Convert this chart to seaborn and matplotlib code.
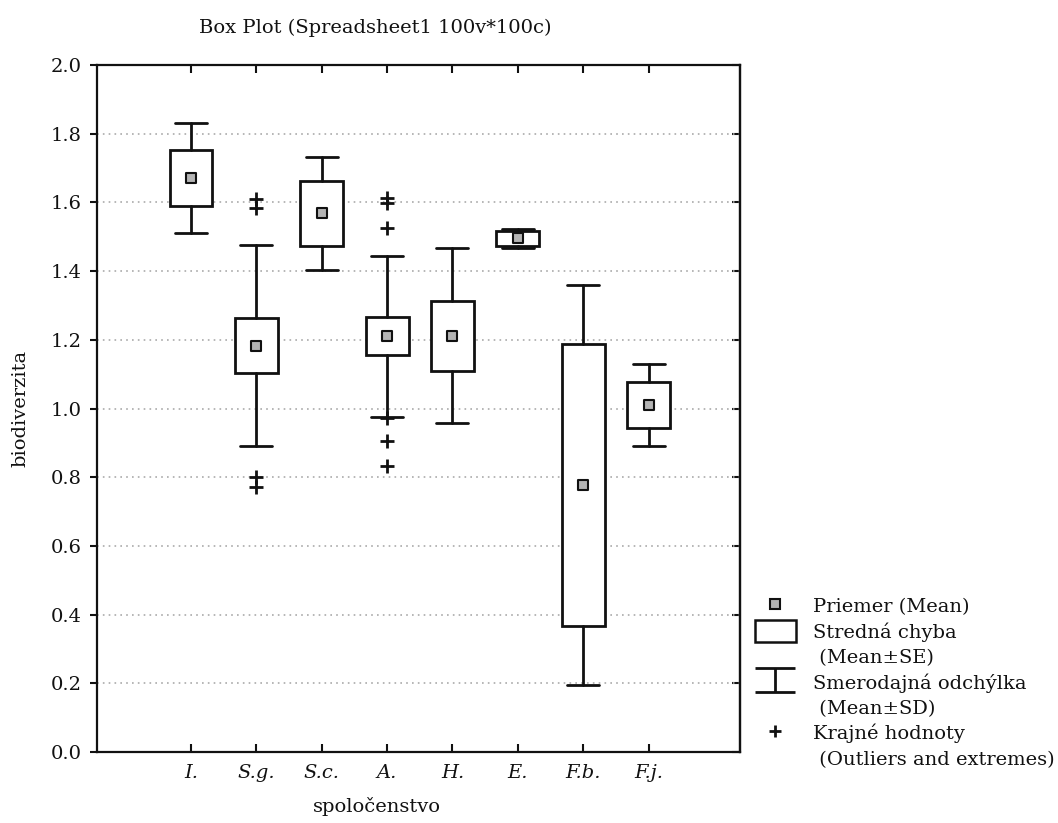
import numpy as np
import pandas as pd
import matplotlib
matplotlib.use('Agg')
import matplotlib.pyplot as plt
import seaborn as sns
from matplotlib.lines import Line2D
from matplotlib.patches import Patch
from matplotlib.path import Path

# Datos (media, error estándar, desviación estándar)
groups = ['I.', 'S.g.', 'S.c.', 'A.', 'H.', 'E.', 'F.b.', 'F.j.']
means = [1.671, 1.183, 1.568, 1.210, 1.212, 1.495, 0.777, 1.010]
se = [0.081, 0.081, 0.095, 0.055, 0.102, 0.023, 0.411, 0.068]
sd = [0.160, 0.292, 0.164, 0.234, 0.255, 0.029, 0.583, 0.119]

# Valores extremos
out_group = ['S.g.', 'S.g.', 'S.g.', 'S.g.', 'A.', 'A.', 'A.', 'A.', 'A.', 'A.']
out_value = [1.609, 1.583, 0.801, 0.772, 1.612, 1.598, 1.525, 0.971, 0.906, 0.833]

yticks = [0.0, 0.2, 0.4, 0.6, 0.8, 1.0, 1.2, 1.4, 1.6, 1.8, 2.0]

sns.set_theme(style='white')
plt.rcParams['font.family'] = ['DejaVu Serif']
ink = '#111111'

df = pd.DataFrame({'grupo': groups, 'media': means})
df_out = pd.DataFrame({'grupo': out_group, 'valor': out_value})

fig = plt.figure(figsize=(10.58, 8.23), dpi=100)
ax = fig.add_axes([97 / 1058, 1 - 752 / 823, (740 - 97) / 1058, (752 - 65) / 823])

# medias (registra también el eje categórico)
sns.scatterplot(data=df, x='grupo', y='media', marker='s', s=60, color='#b4b4b4',
                edgecolor=ink, linewidth=1.5, zorder=5, ax=ax)
sns.scatterplot(data=df_out, x='grupo', y='valor', marker='+', s=90, color=ink,
                linewidth=2, zorder=5, ax=ax)

# cajas: media ± SE, bigotes: media ± SD
stats = []
for g, m, s, d in zip(groups, means, se, sd):
    stats.append(dict(label=g, med=m, q1=m - s, q3=m + s, whislo=m - d, whishi=m + d, fliers=[]))
ax.bxp(stats, positions=range(len(groups)), widths=0.655, capwidths=0.49,
       patch_artist=True, showfliers=False, manage_ticks=False,
       boxprops=dict(facecolor='white', edgecolor=ink, linewidth=2),
       whiskerprops=dict(color=ink, linewidth=2),
       capprops=dict(color=ink, linewidth=2),
       medianprops=dict(linewidth=0), zorder=3)

ax.set_xlim(-1.44, 8.4)
ax.set_ylim(0, 2)
ax.set_yticks(yticks)
ax.set_yticklabels(['%.1f' % v for v in yticks])
ax.set_xticks(range(len(groups)))
ax.set_xticklabels(groups, fontstyle='italic')
ax.set_xlabel('')
ax.set_ylabel('')

ax.set_axisbelow(True)
ax.yaxis.grid(True, linestyle=(0, (1, 2.5)), color='#aaaaaa', linewidth=1.2)
ax.xaxis.grid(False)
for sp in ax.spines.values():
    sp.set_visible(True)
    sp.set_color(ink)
    sp.set_linewidth(1.6)

ax.tick_params(axis='x', direction='in', top=True, bottom=True, length=6, width=1.5,
               color=ink, pad=9, labelsize=14, labelcolor=ink)
ax.tick_params(axis='y', direction='out', left=True, length=5, width=1.5,
               color=ink, pad=6, labelsize=14, labelcolor=ink)
sec = ax.secondary_yaxis('right')
sec.set_yticks(yticks)
sec.tick_params(direction='in', length=6, width=1.5, color=ink, labelright=False)
sec.spines['right'].set_linewidth(1.6)

fig.text(375 / 1058, 1 - 28 / 823, 'Box Plot (Spreadsheet1 100v*100c)',
         ha='center', va='center', fontsize=14, color=ink)
fig.text(377 / 1058, 1 - 806 / 823, 'spoločenstvo', ha='center', va='center',
         fontsize=14, color=ink)
fig.text(20 / 1058, 1 - 408 / 823, 'biodiverzita', ha='center', va='center',
         rotation=90, fontsize=14, color=ink)

# leyenda
i_shape = Path([(-1, 0.6), (1, 0.6), (0, 0.6), (0, -0.6), (-1, -0.6), (1, -0.6)],
               [Path.MOVETO, Path.LINETO, Path.MOVETO, Path.LINETO, Path.MOVETO, Path.LINETO])
blank = Line2D([], [], linestyle='none')
handles = [
    Line2D([], [], marker='s', linestyle='none', markersize=7.5, markerfacecolor='#b4b4b4',
           markeredgecolor=ink, markeredgewidth=1.5),
    Patch(facecolor='white', edgecolor=ink, linewidth=1.8),
    blank,
    Line2D([], [], marker=i_shape, linestyle='none', markersize=29, color=ink,
           markeredgewidth=2, fillstyle='none'),
    blank,
    Line2D([], [], marker='+', linestyle='none', markersize=9, color=ink, markeredgewidth=2),
    blank,
]
labels = ['Priemer (Mean)', 'Stredná chyba', ' (Mean±SE)', 'Smerodajná odchýlka',
          ' (Mean±SD)', 'Krajné hodnoty', ' (Outliers and extremes)']
fig.legend(handles, labels, loc='upper left', bbox_to_anchor=(755 / 1058, 1 - 595 / 823),
           frameon=False, fontsize=14, handlelength=2.1, handleheight=1.3,
           handletextpad=0.9, labelspacing=0.22, borderpad=0, borderaxespad=0,
           labelcolor=ink)

fig.savefig('out.png', dpi=100)
